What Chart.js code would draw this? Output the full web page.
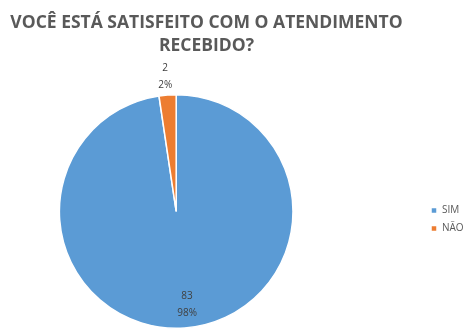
<!DOCTYPE html>
<html>
<head>
<meta charset="utf-8">
<script src="https://cdn.jsdelivr.net/npm/chart.js@4.4.1/dist/chart.umd.min.js"></script>
<style>
  html, body { margin: 0; padding: 0; background: #fff; }
  #wrap { width: 476px; height: 330px; }
</style>
</head>
<body>
<div id="wrap"><canvas id="PieChart" width="476" height="330"></canvas></div>
<script>
const titleLines = ['VOCÊ ESTÁ SATISFEITO COM O ATENDIMENTO', 'RECEBIDO?'];
const categories = ['SIM', 'NÃO'];
const answers = [83, 2];
const sliceColors = ['#5B9BD5', '#ED7D31'];

// count + percentage on each slice; thin slices get their label outside
const sliceLabels = {
  id: 'sliceLabels',
  afterDatasetsDraw(chart) {
    const ctx = chart.ctx;
    const meta = chart.getDatasetMeta(0);
    const total = answers.reduce((a, b) => a + b, 0);
    ctx.save();
    ctx.font = '10px "Open Sans"';
    ctx.fillStyle = '#404040';
    ctx.textAlign = 'center';
    ctx.textBaseline = 'middle';
    meta.data.forEach((arc, i) => {
      const p = arc.getProps(['x', 'y', 'startAngle', 'endAngle', 'outerRadius'], true);
      const mid = (p.startAngle + p.endAngle) / 2;
      const share = answers[i] / total;
      const dist = share < 0.1 ? p.outerRadius + 19 : p.outerRadius * 0.8;
      const cx = p.x + Math.cos(mid) * dist + (share < 0.1 ? -1 : 4);
      const cy = p.y + Math.sin(mid) * dist;
      ctx.fillText(String(answers[i]), cx, cy - 8);
      ctx.fillText(Math.round(share * 100) + '%', cx, cy + 9);
    });
    ctx.restore();
  }
};

// nudge title and legend boxes after the layout pass
const boxNudge = {
  id: 'boxNudge',
  afterLayout(chart) {
    const lg = chart.legend;
    const dx = 423 - lg.left;
    lg.left += dx; lg.right += dx;
    lg.top += 55; lg.bottom += 55;
    const tb = chart.titleBlock;
    tb.left += 5; tb.right += 5;
  }
};

const ctx = document.getElementById('PieChart').getContext('2d');
new Chart(ctx, {
  type: 'pie',
  data: {
    labels: categories,
    datasets: [{
      data: answers,
      backgroundColor: sliceColors,
      borderColor: '#ffffff',
      borderWidth: 1.5
    }]
  },
  options: {
    responsive: false,
    animation: false,
    layout: { padding: { left: 0, right: 73, top: 0, bottom: 1 } },
    plugins: {
      title: {
        display: true,
        text: titleLines,
        color: '#595959',
        font: { family: 'Open Sans', size: 17.5, weight: 'bold', lineHeight: 1.34 },
        padding: { top: 11, bottom: 36 }
      },
      legend: {
        position: 'right',
        labels: {
          boxWidth: 6,
          boxHeight: 6,
          padding: 8,
          color: '#595959',
          font: { family: 'Open Sans', size: 10 }
        }
      },
      tooltip: { enabled: false }
    }
  },
  plugins: [sliceLabels, boxNudge]
});
</script>
</body>
</html>
